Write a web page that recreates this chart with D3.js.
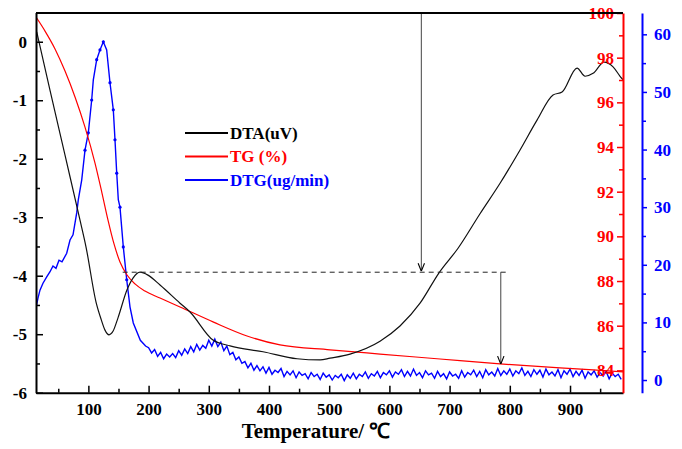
<!DOCTYPE html>
<html><head><meta charset="utf-8">
<script src="https://cdn.jsdelivr.net/npm/d3@7"></script>
<style>body{margin:0;background:#fff}svg{display:block}</style>
</head><body>
<svg id="c" width="682" height="449"></svg>
<script>
// ---------- data ----------
const dtaTemps  = [14.2,36.3,61.2,86.1,96.1,112.7,121.0,127.6,134.3,140.9,149.2,164.2,174.1,185.8,199.0,219.0,252.2,268.8,307.0,335.3,390.1,446.6,484.8,501.4,534.6,584.4,617.6,650.9,682.4,714.0,750.5,783.8,817.0,845.2,871.8,886.8,911.7,925.0,938.3,956.5,971.5,983.1,988];
const dtaValues = [0.17,-0.83,-1.94,-3.05,-3.51,-4.45,-4.74,-4.93,-5.01,-4.95,-4.72,-4.24,-4.04,-3.94,-3.99,-4.16,-4.47,-4.62,-5.10,-5.20,-5.30,-5.42,-5.44,-5.41,-5.34,-5.12,-4.86,-4.47,-3.95,-3.53,-2.94,-2.42,-1.85,-1.34,-0.91,-0.86,-0.45,-0.59,-0.54,-0.35,-0.43,-0.59,-0.65];

const tgTemps  = [13,28.0,44.6,61.2,77.8,94.4,111.0,122.6,132.6,142.6,152.5,164.2,177.4,194.0,219.0,252.2,307.0,363.5,418.3,501.4,584.4,684.1,783.8,883.4,938.3,988];
const tgValues = [99.82,99.19,98.39,97.40,96.24,94.89,93.28,91.94,90.73,89.66,88.85,88.27,87.87,87.55,87.24,86.84,86.17,85.54,85.14,84.92,84.73,84.51,84.29,84.11,84.02,83.93];

const dtgPeakTemps  = [13,13.3,16.3,19.6,24.6,30.8,36.3,41.2,46.2,51.2,56.2,64.0,69.5,74.5,80.6,83.3,88.9,94.4,99.9,105.5,108.2,113.8,119.3,124.8,130.4,135.9,141.4,144.2,147.1,149.7,152.5,158.0,163.7,169.1,174.6,186.3,195];
const dtgPeakValues = [38.5,12.7,14.2,15.6,16.8,17.9,18.8,19.8,19.4,20.8,20.5,22.0,24.3,25.2,29.0,31.3,34.7,39.9,42.9,48.6,52.1,55.6,57.3,58.7,57.3,51.6,46.9,41.7,35.9,31.3,30.0,23.1,17.4,12.7,9.9,6.9,5.9];
const dtgTailStart = 200, dtgTailStep = 5;
const dtgTailValues = [
5.6,4.7,5.3,4.1,4.8,3.7,4.5,4.0,4.6,3.9,5.1,4.3,5.4,4.6,5.8,4.9,6.2,5.2,6.0,5.5,6.9,5.9,7.1,5.8,6.6,5.1,5.9,4.4,4.8,3.5,4.0,2.9,3.2,2.1,2.9,1.7,2.5,1.6,2.3,1.2,
2.2,1.0,1.7,1.3,2.0,0.6,1.5,0.9,1.6,0.4,1.4,0.8,1.1,0.2,1.3,0.6,1.0,0.1,1.2,0.5,0.9,0.0,0.8,0.4,1.0,-0.1,0.9,0.3,1.2,0.2,1.0,0.6,1.4,0.3,1.1,0.7,1.5,0.4,1.3,0.9,
1.6,0.5,1.4,1.0,1.8,0.6,1.5,0.7,1.9,0.8,1.3,0.4,1.6,0.9,1.2,0.3,1.5,0.6,1.1,0.2,1.4,0.7,1.0,0.3,1.6,0.5,1.3,0.9,1.7,0.6,1.5,0.4,1.8,0.9,1.4,0.7,2.0,0.8,1.6,1.0,
1.9,0.7,1.6,1.1,2.1,0.8,1.5,0.6,1.8,1.0,1.7,0.5,1.9,0.9,1.4,0.7,1.8,0.4,1.6,1.0,1.9,0.6,1.5,0.8,1.7,0.3,1.4,0.9,1.6,0.5,1.3,0.7,1.5,0.2,1.2,0.6,1.0,0.1];
const dtgMarkerTemps = [94.4,99.9,105.5,113.8,119.3,124.8,135.9,141.4,144.2,147.1,152.5,158.0,163.7];

const xTicks = [100,200,300,400,500,600,700,800,900];
const dtaTicks = [0,-1,-2,-3,-4,-5,-6];
const tgTicks = [84,86,88,90,92,94,96,98,100];
const dtgTicks = [0,10,20,30,40,50,60];

const legendNames = ["DTA(uV)","TG (%)","DTG(ug/min)"];
const legendColors = ["#000000","#ff0000","#0000ff"];

// annotation values
const arrow1Temp = 653, arrow2Temp = 785, dashLevel = -3.94, dashFrom = 157, dashTo = 799, arrow2TG = 84.28;

// ---------- layout ----------
const L = 36, R = 623, T = 13, B = 392.7, BLUE = 642;
const serif = "'Liberation Serif','Times New Roman',serif";
const svg = d3.select("#c");

const x = d3.scaleLinear().domain([13, 988]).range([L, R]);
const yL = d3.scaleLinear().domain([-6, 0.5]).range([B, T - 0.5]);
const yR = d3.scaleLinear().domain([83, 100]).range([B, T]);
const yB = d3.scaleLinear().domain([-2.2, 63.7]).range([B, T]);

const defs = svg.append("defs");
defs.append("clipPath").attr("id","clip").append("rect").attr("x",L).attr("y",T).attr("width",R-L).attr("height",B-T);
defs.append("marker").attr("id","arr").attr("viewBox","0 0 10 10").attr("refX",10).attr("refY",5)
  .attr("markerWidth",8).attr("markerHeight",8).attr("markerUnits","userSpaceOnUse").attr("orient","auto")
  .append("path").attr("d","M0,1 L10,5 L0,9").attr("fill","none").attr("stroke","#000").attr("stroke-width",1.4);

// ---------- curves ----------
const gPlot = svg.append("g").attr("clip-path","url(#clip)");
const dtgData = dtgPeakTemps.map((t,i)=>[t,dtgPeakValues[i]])
  .concat(dtgTailValues.map((v,i)=>[dtgTailStart + i*dtgTailStep, v]));
gPlot.append("path").datum(dtgData)
  .attr("d", d3.line().x(d=>x(d[0])).y(d=>yB(d[1])))
  .attr("fill","none").attr("stroke","#0000ff").attr("stroke-width",1.4);
const dtgMarkers = dtgMarkerTemps.map(t=>[t, dtgPeakValues[dtgPeakTemps.indexOf(t)]]);
gPlot.selectAll("circle.m").data(dtgMarkers).enter().append("circle")
  .attr("cx",d=>x(d[0])).attr("cy",d=>yB(d[1])).attr("r",1.6).attr("fill","#0000ff");

gPlot.append("path").datum(tgTemps.map((t,i)=>[t,tgValues[i]]))
  .attr("d", d3.line().curve(d3.curveMonotoneX).x(d=>x(d[0])).y(d=>yR(d[1])))
  .attr("fill","none").attr("stroke","#ff0000").attr("stroke-width",1.2);

gPlot.append("path").datum(dtaTemps.map((t,i)=>[t,dtaValues[i]]))
  .attr("d", d3.line().curve(d3.curveMonotoneX).x(d=>x(d[0])).y(d=>yL(d[1])))
  .attr("fill","none").attr("stroke","#111").attr("stroke-width",1.2);

// ---------- annotations ----------
const ann = svg.append("g").attr("stroke","#444").attr("stroke-width",1);
ann.append("line").attr("x1",x(arrow1Temp)).attr("x2",x(arrow1Temp)).attr("y1",T).attr("y2",yL(dashLevel)-1).attr("marker-end","url(#arr)");
ann.append("line").attr("x1",x(dashFrom)).attr("x2",x(dashTo)).attr("y1",yL(dashLevel)).attr("y2",yL(dashLevel))
  .attr("stroke","#222").attr("stroke-dasharray","5,4");
ann.append("line").attr("x1",x(arrow2Temp)).attr("x2",x(arrow2Temp)).attr("y1",yL(dashLevel)).attr("y2",yR(arrow2TG)).attr("marker-end","url(#arr)");

// ---------- axes ----------
function styleAxis(g, color, size){
  g.selectAll("path.domain").attr("stroke",color).attr("stroke-width",2);
  g.selectAll(".tick line").attr("stroke",color).attr("stroke-width",1.5);
  g.selectAll(".tick text").attr("fill",color).style("font-family",serif).style("font-weight","bold").style("font-size",size+"px");
}
svg.append("line").attr("x1",L).attr("x2",R).attr("y1",T).attr("y2",T).attr("stroke","#000").attr("stroke-width",2);

// bottom
const xMinor = d3.range(50, 988, 100);
svg.append("g").attr("transform",`translate(0,${B})`)
  .call(d3.axisBottom(x).tickValues(xMinor).tickSize(-4).tickSizeOuter(0).tickFormat(""))
  .call(g=>{g.select(".domain").remove(); g.selectAll(".tick line").attr("stroke","#000").attr("stroke-width",1.5);});
const gx = svg.append("g").attr("transform",`translate(0,${B})`)
  .call(d3.axisBottom(x).tickValues(xTicks).tickSize(-7).tickSizeOuter(0).tickPadding(10));
styleAxis(gx,"#000",17);

// left
svg.append("g").attr("transform",`translate(${L},0)`)
  .call(d3.axisLeft(yL).tickValues([-5.5,-4.5,-3.5,-2.5,-1.5,-0.5,0.5]).tickSize(-4).tickSizeOuter(0).tickFormat(""))
  .call(g=>{g.select(".domain").remove(); g.selectAll(".tick line").attr("stroke","#000").attr("stroke-width",1.5);});
const gl = svg.append("g").attr("transform",`translate(${L},0)`)
  .call(d3.axisLeft(yL).tickValues(dtaTicks).tickSize(-7).tickSizeOuter(0).tickPadding(9));
styleAxis(gl,"#000",17);
gl.selectAll(".tick text").text(d=>d<0?"-"+Math.abs(d):d);

// red TG axis (right edge, ticks and labels inside)
svg.append("g").attr("transform",`translate(${R},0)`)
  .call(d3.axisLeft(yR).tickValues([85,87,89,91,93,95,97,99]).tickSize(4).tickSizeOuter(0).tickFormat(""))
  .call(g=>{g.select(".domain").remove(); g.selectAll(".tick line").attr("stroke","#ff0000").attr("stroke-width",1.5);});
const gr = svg.append("g").attr("transform",`translate(${R},0)`)
  .call(d3.axisLeft(yR).tickValues(tgTicks).tickSize(6).tickSizeOuter(0).tickPadding(3));
styleAxis(gr,"#ff0000",17);
svg.append("line").attr("x1",L).attr("x2",R).attr("y1",T).attr("y2",T).attr("stroke","#000").attr("stroke-width",2);

// blue DTG axis
svg.append("g").attr("transform",`translate(${BLUE},0)`)
  .call(d3.axisRight(yB).tickValues([5,15,25,35,45,55]).tickSize(4).tickSizeOuter(0).tickFormat(""))
  .call(g=>{g.select(".domain").remove(); g.selectAll(".tick line").attr("stroke","#0000ff").attr("stroke-width",1.5);});
const gb = svg.append("g").attr("transform",`translate(${BLUE},0)`)
  .call(d3.axisRight(yB).tickValues(dtgTicks).tickSize(5).tickSizeOuter(0).tickPadding(7));
styleAxis(gb,"#0000ff",17);

// x title
svg.append("text").attr("x",316).attr("y",438).attr("text-anchor","middle")
  .style("font-family",serif).style("font-weight","bold").style("font-size","21px").text("Temperature/ ℃");

// ---------- legend ----------
const lg = svg.append("g");
legendNames.forEach((n,i)=>{
  const yy = 133 + i*23.5;
  lg.append("line").attr("x1",185).attr("x2",228).attr("y1",yy).attr("y2",yy).attr("stroke",legendColors[i]).attr("stroke-width",2.2);
  lg.append("text").attr("x",230).attr("y",yy).attr("dy","0.35em").attr("fill",legendColors[i])
    .style("font-family",serif).style("font-weight","bold").style("font-size","17px").text(n);
});
</script>
</body></html>
